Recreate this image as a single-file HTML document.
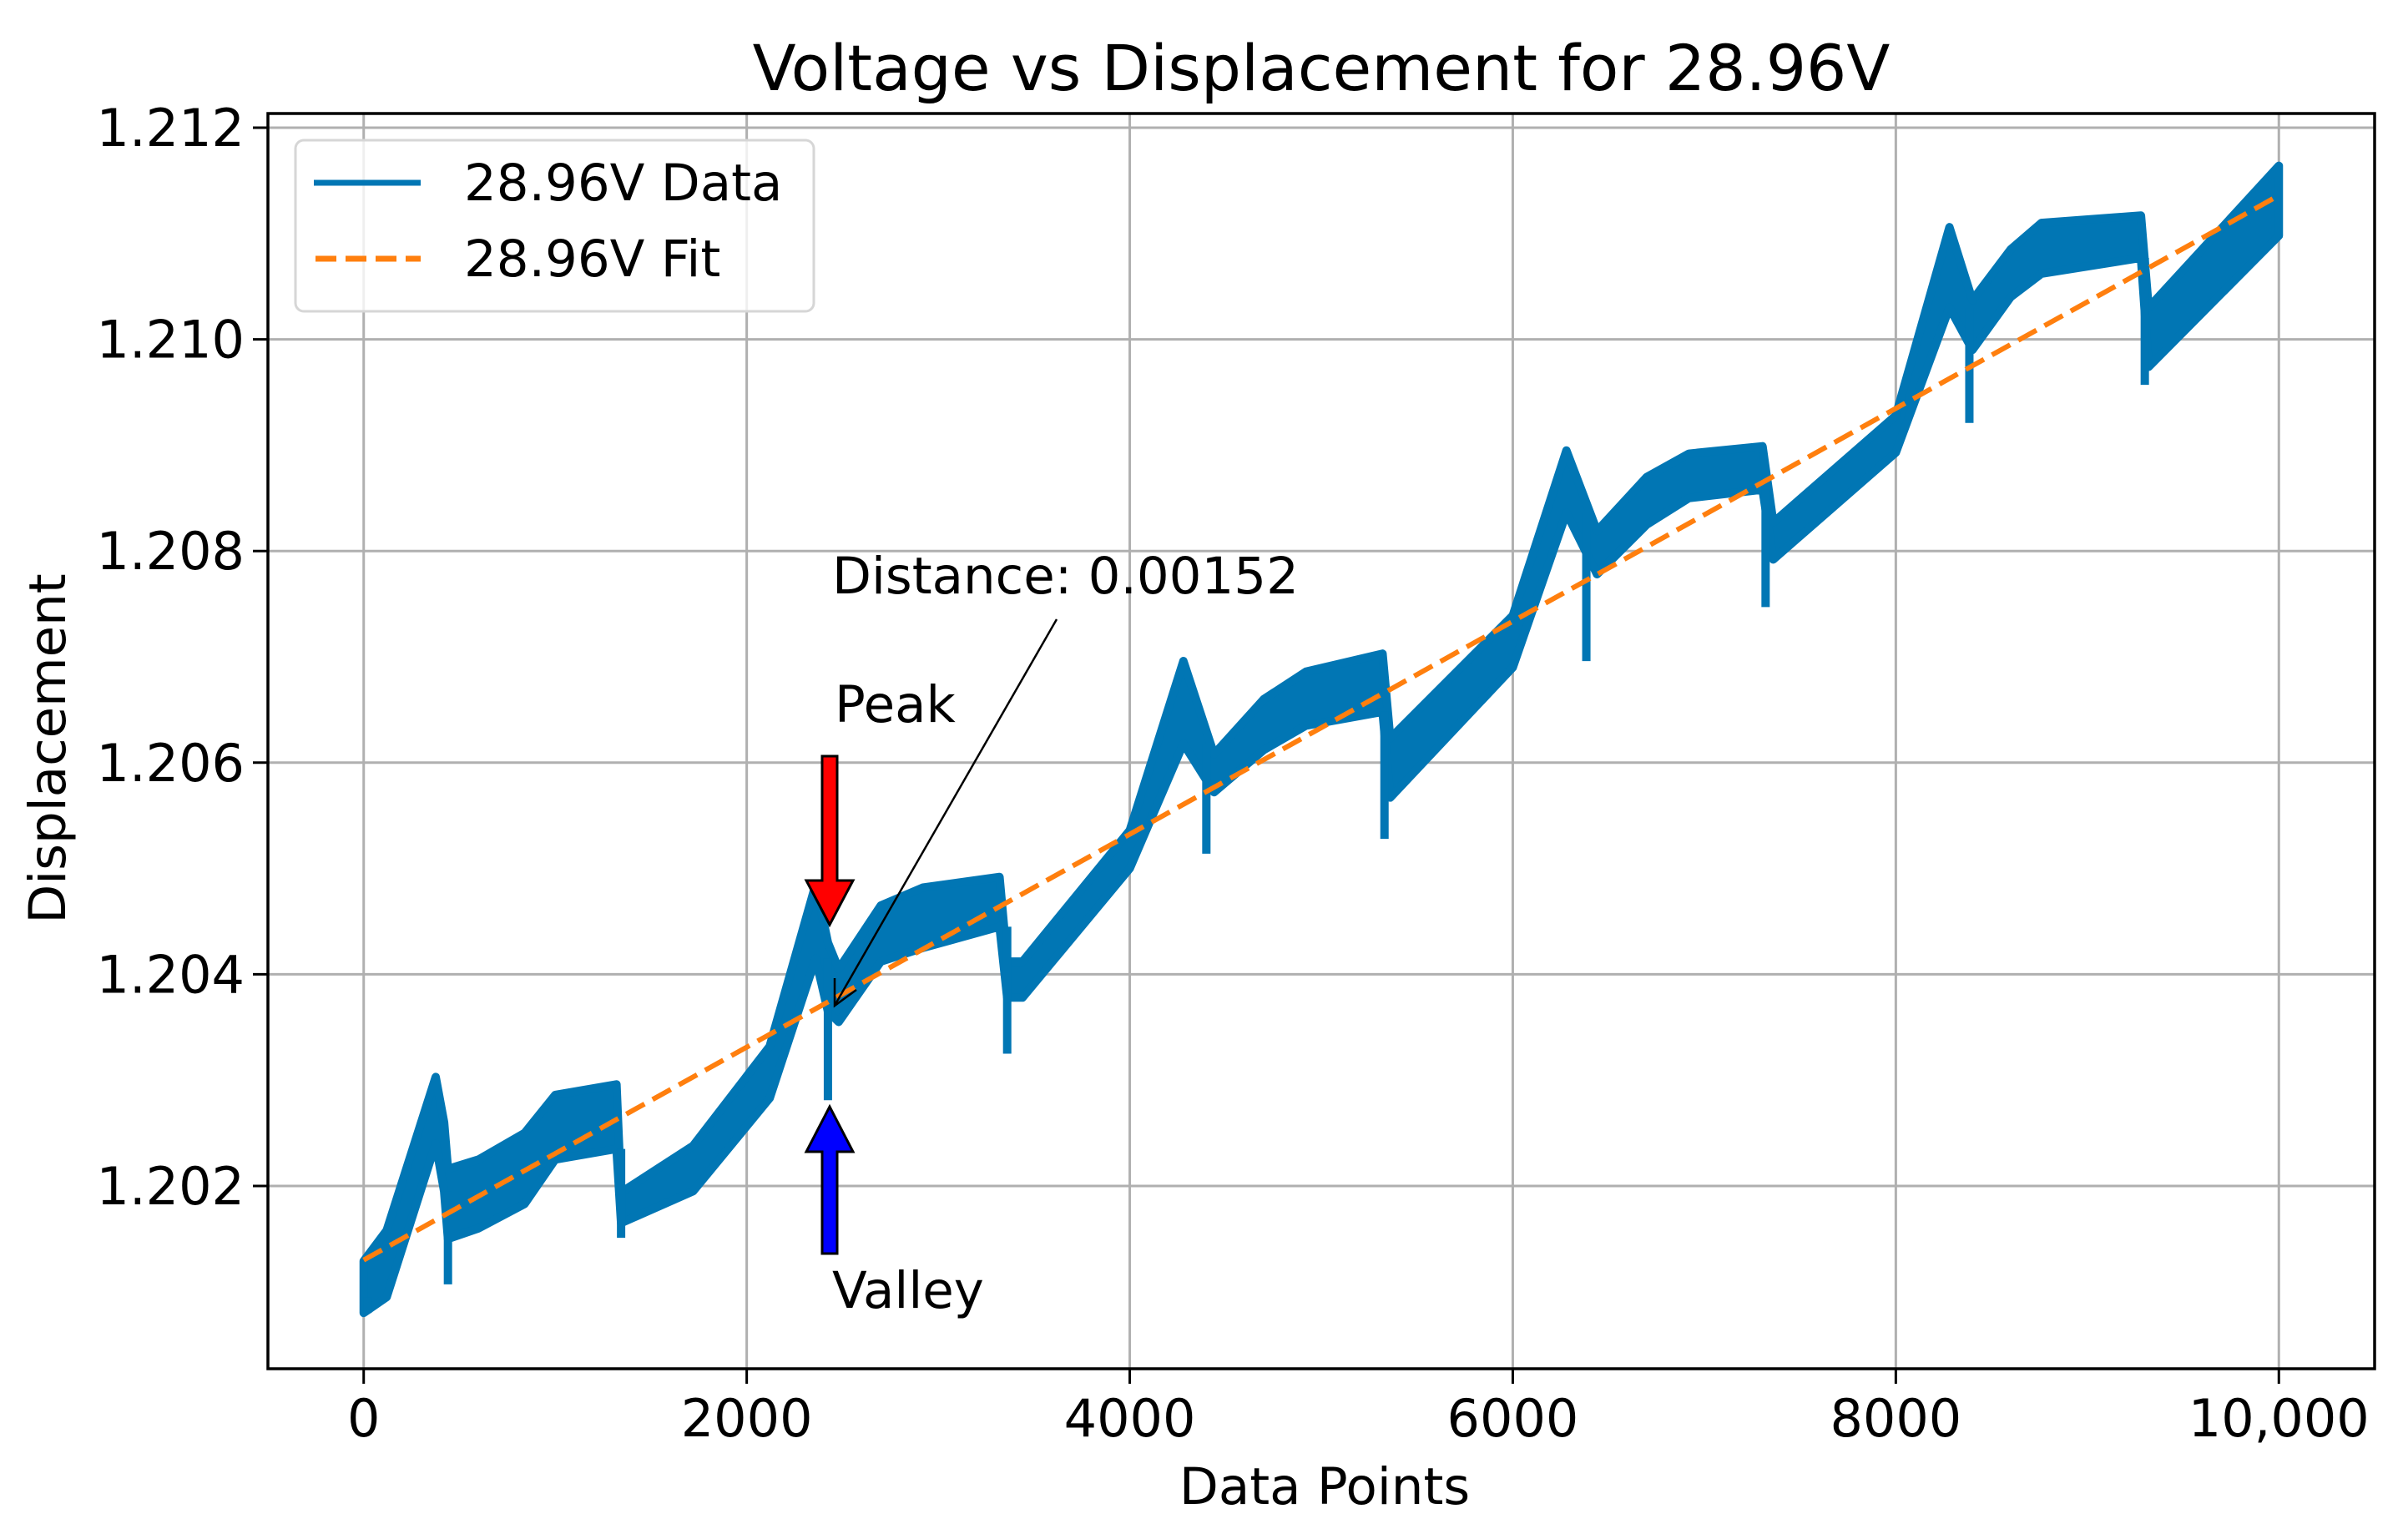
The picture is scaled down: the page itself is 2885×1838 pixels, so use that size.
<!DOCTYPE html>
<html><head><meta charset="utf-8"><style>
html,body{margin:0;padding:0;background:#fff;}
svg{display:block;font-family:"DejaVu Sans","Liberation Sans",sans-serif;}
</style></head>
<body>
<svg id="chart" xmlns="http://www.w3.org/2000/svg" width="2885" height="1838" viewBox="0 0 2885 1838">
<rect width="2885" height="1838" fill="#fff"/>
<g id="grid"></g>
<g id="series"></g>
<g id="axes"></g>
<text x="1583" y="108" font-size="76" text-anchor="middle">Voltage vs Displacement for 28.96V</text>
<text x="1587" y="1802" font-size="61" text-anchor="middle">Data Points</text>
<text x="0" y="0" font-size="61" text-anchor="middle" transform="translate(78,897) rotate(-90)">Displacement</text>
<g>
<rect x="354" y="168" width="621" height="205" rx="10" fill="#fff" fill-opacity="0.8" stroke="#d6d6d6" stroke-width="3"/>
<line x1="376" y1="219" x2="504" y2="219" stroke="#0176b4" stroke-width="7"/>
<text x="556" y="240" font-size="61">28.96V Data</text>
<line x1="378" y1="310" x2="504" y2="310" stroke="#ff7f0e" stroke-width="7" stroke-dasharray="25,11"/>
<text x="556" y="331" font-size="61">28.96V Fit</text>
</g>
<g>
<text x="997" y="711" font-size="61">Distance: 0.00152</text>
<line x1="1266" y1="742" x2="1001" y2="1203" stroke="#000" stroke-width="2.5"/>
<polyline points="1000,1172 1000,1205 1026,1186" fill="none" stroke="#000" stroke-width="2.5"/>
<text x="1000" y="865" font-size="61">Peak</text>
<polygon points="985,906 1003,906 1003,1055 1022,1055 994,1108 966,1055 985,1055" fill="#ff0000" stroke="#000" stroke-width="3"/>
<polygon points="985,1502 1003,1502 1003,1380 1022,1380 994,1326 966,1380 985,1380" fill="#0000ff" stroke="#000" stroke-width="3"/>
<text x="997" y="1567" font-size="61">Valley</text>
</g>
</svg>
<script>
const xTicks = [0, 2000, 4000, 6000, 8000, 10000];
const xTickLabels = ["0", "2000", "4000", "6000", "8000", "10,000"];
const yTicks = [1.202, 1.204, 1.206, 1.208, 1.210, 1.212];
const yTickLabels = ["1.202", "1.204", "1.206", "1.208", "1.210", "1.212"];
const bandX = [0,120,376,420,440,600,840,1000,1320,1344,1720,2120,2360,2424,2480,2700,2920,3320,3360,3440,4000,4280,4440,4700,4920,5320,5360,6000,6280,6440,6700,6920,7304,7360,8000,8280,8400,8600,8760,9280,9320,10000];
const bandHigh = [1.20129,1.20158,1.20303,1.20260,1.20216,1.20225,1.20250,1.20286,1.20296,1.20194,1.20238,1.20332,1.20485,1.20430,1.20405,1.20465,1.20482,1.20492,1.20412,1.20412,1.20536,1.20696,1.20608,1.20660,1.20686,1.20703,1.20623,1.20739,1.20895,1.20819,1.20870,1.20892,1.20899,1.20827,1.20928,1.21106,1.21037,1.21085,1.21110,1.21117,1.21030,1.21164];
const bandLow = [1.20080,1.20095,1.20240,1.20195,1.20150,1.20160,1.20183,1.20225,1.20235,1.20165,1.20195,1.20283,1.20415,1.20365,1.20355,1.20412,1.20425,1.20445,1.20378,1.20378,1.20500,1.20618,1.20572,1.20612,1.20635,1.20648,1.20567,1.20690,1.20836,1.20778,1.20825,1.20850,1.20858,1.20792,1.20893,1.21030,1.20990,1.21040,1.21062,1.21077,1.20974,1.21098];
const spikeX = [20,440,1344,2424,3360,4400,5330,6384,7320,8384,9300];
const spikeMin = [1.20080,1.20107,1.20151,1.20281,1.20325,1.20514,1.20528,1.20696,1.20747,1.20921,1.20957];
const fitX = [0, 10000];
const fitY = [1.2013, 1.21136];

const L=321,R=2845,T=136,B=1640;
const XMIN=-500,XMAX=10500;
const Y0v=1.202,Y0p=1421,Y1v=1.212,Y1p=153;
function sx(v){return L+(v-XMIN)/(XMAX-XMIN)*(R-L);}
function sy(v){return Y0p+(v-Y0v)/(Y1v-Y0v)*(Y1p-Y0p);}
const NS="http://www.w3.org/2000/svg";
function mk(tag,attrs,parent){const e=document.createElementNS(NS,tag);for(const k in attrs)e.setAttribute(k,attrs[k]);parent.appendChild(e);return e;}
const grid=document.getElementById('grid'),axes=document.getElementById('axes'),series=document.getElementById('series');
xTicks.forEach((t,i)=>{
  const g=mk('line',{x1:sx(t),x2:sx(t),y1:T,y2:B,stroke:'#b0b0b0','stroke-width':3},grid);
  
  
  const tk=mk('line',{x1:sx(t),x2:sx(t),y1:B,y2:B+18,stroke:'#000','stroke-width':3},axes);
  
  
  const tx=mk('text',{x:sx(t),y:B+81,'font-size':62,'text-anchor':'middle'},axes);
  tx.textContent=xTickLabels[i];
  
  
});
yTicks.forEach((t,i)=>{
  const g=mk('line',{x1:L,x2:R,y1:sy(t),y2:sy(t),stroke:'#b0b0b0','stroke-width':3},grid);
  
  
  const tk=mk('line',{x1:L-18,x2:L,y1:sy(t),y2:sy(t),stroke:'#000','stroke-width':3},axes);
  
  
  const tx=mk('text',{x:L-28,y:sy(t)+22,'font-size':62,'text-anchor':'end'},axes);
  tx.textContent=yTickLabels[i];
  
  
});
const frame=mk('rect',{x:L,y:T,width:R-L,height:B-T,fill:'none',stroke:'#000','stroke-width':3.5},axes);


let pts=[];
for(let i=0;i<bandX.length;i++)pts.push(sx(bandX[i])+','+sy(bandHigh[i]));
for(let i=bandX.length-1;i>=0;i--)pts.push(sx(bandX[i])+','+sy(bandLow[i]));
const band=mk('polygon',{points:pts.join(' '),fill:'#0176b4',stroke:'#0176b4','stroke-width':10,'stroke-linejoin':'round'},series);


spikeX.forEach((x,i)=>{
  let j=0;while(j<bandX.length-1&&bandX[j+1]<x)j++;
  const top=Math.max(bandLow[j],bandLow[Math.min(j+1,bandX.length-1)]);
  const s=mk('line',{x1:sx(x),x2:sx(x),y1:sy(top),y2:sy(spikeMin[i]),stroke:'#0176b4','stroke-width':10},series);
  
  
});
const fit=mk('line',{x1:sx(fitX[0]),y1:sy(fitY[0]),x2:sx(fitX[1]),y2:sy(fitY[1]),stroke:'#ff7f0e','stroke-width':6,'stroke-dasharray':'25,11'},series);


</script>
</body></html>
